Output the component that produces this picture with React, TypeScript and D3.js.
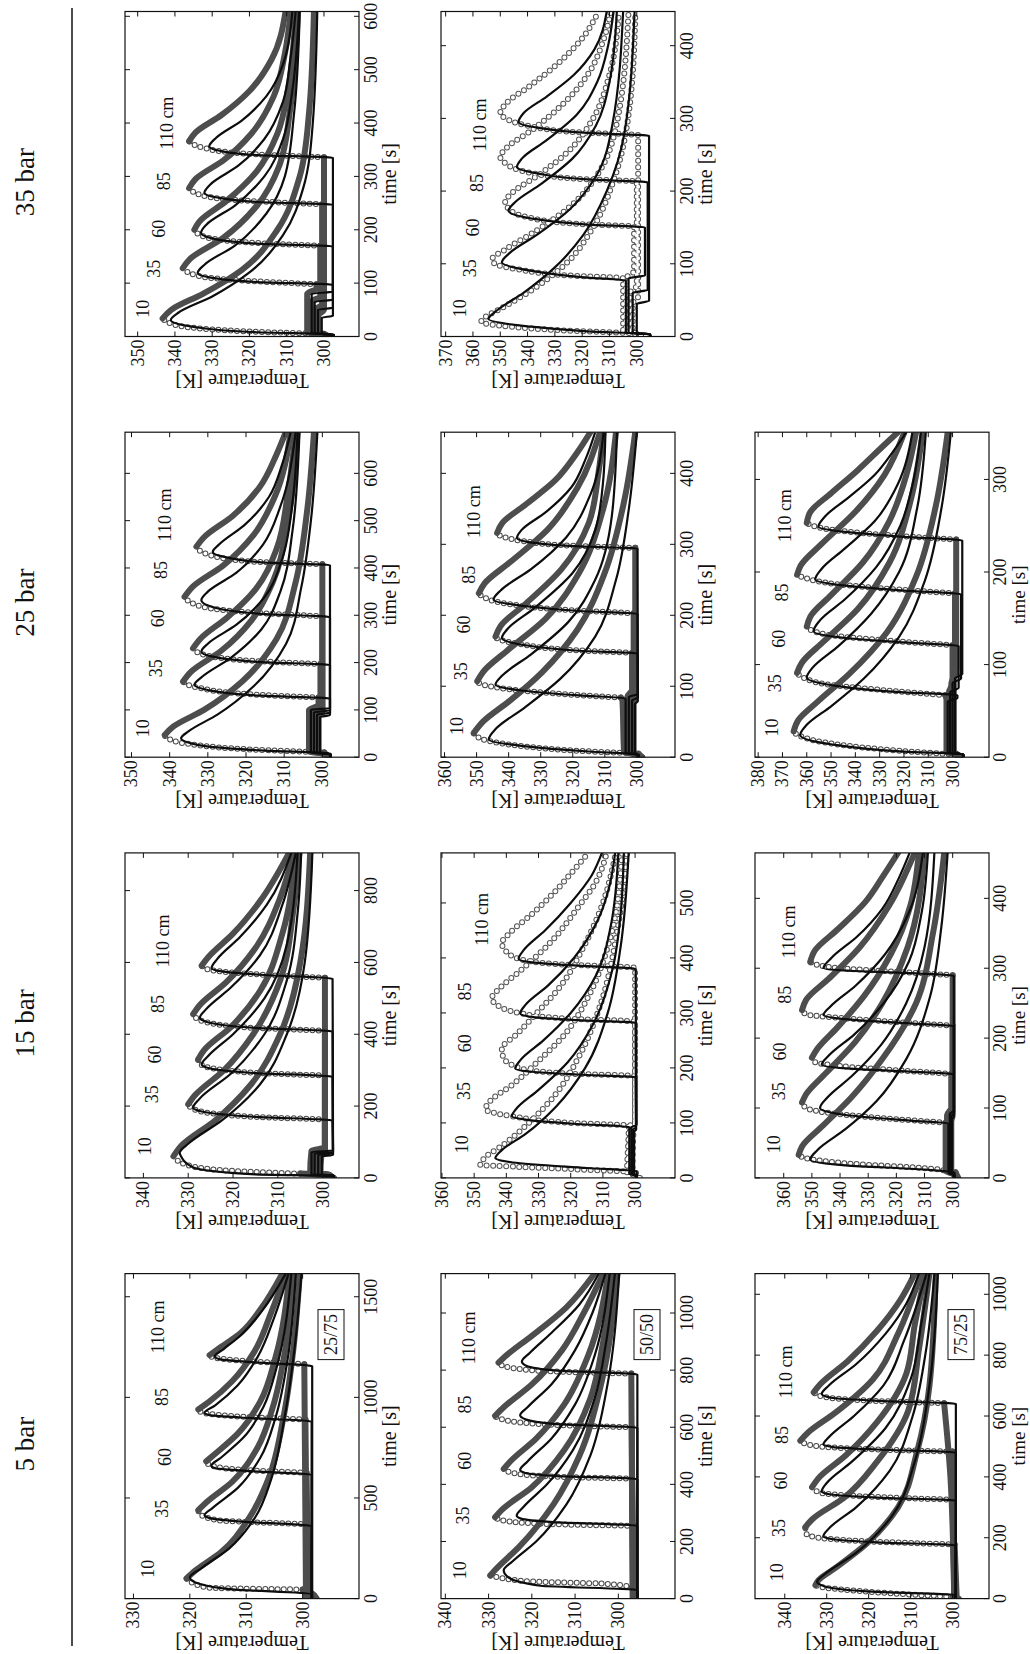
import React from "react";
import * as d3 from "d3";

type Pt = [number, number];

const PRESSURES = ["5 bar", "15 bar", "25 bar", "35 bar"];
const COMPOSITIONS = ["25/75", "50/50", "75/25"];
const POSITIONS = ["10", "35", "60", "85", "110 cm"];

// ---------- 5 bar, 25/75 ----------
const P05_2575_MODEL: Pt[][] = [
  [[0,298.3],[22,298.4],[45,312],[75,318.5],[105,320.0],[150,318],[250,313],[400,308.5],[600,305.5],[900,303.2],[1250,301.4],[1615,300.2]],
  [[0,298.4],[360,298.4],[385,312],[400,316.5],[415,317.4],[450,316],[550,311.5],[700,307.5],[900,304.8],[1200,302.6],[1615,301.2]],
  [[0,298.4],[615,298.4],[635,310],[648,315.5],[660,316.2],[700,314.5],[800,310.5],[950,307],[1150,304.6],[1615,302.0]],
  [[0,298.4],[880,298.4],[900,311],[912,316.5],[922,317.4],[960,315.5],[1060,311.5],[1200,308],[1400,305],[1615,302.5]],
  [[0,298.3],[1155,298.3],[1175,309],[1190,314.8],[1203,315.6],[1240,314],[1300,311.3],[1430,307.2],[1615,303.0]],
];
const P05_2575_EXP: Pt[][] = [
  [[0,297.5],[30,298.5],[45,300],[55,317],[100,320.6],[140,319],[230,314.5],[400,309.5],[600,306],[900,303.4],[1250,301.6],[1615,300.5]],
  [[0,298.8],[370,299.2],[390,315],[420,318.2],[440,318.5],[480,317],[580,312.5],[750,308],[950,305.3],[1250,303.0],[1615,301.5]],
  [[0,299],[625,299.3],[645,313],[670,316.8],[682,317.1],[720,315.5],[820,311.5],[980,307.5],[1200,304.8],[1615,302.3]],
  [[0,299.2],[890,299.5],[910,314],[930,318.2],[940,318.5],[980,316.5],[1080,312.5],[1230,308.5],[1420,305.6],[1615,303.0]],
  [[0,299.4],[1165,299.7],[1185,312],[1200,316],[1210,316.5],[1250,314.5],[1320,311],[1440,307.4],[1615,303.6]],
];
const P05_2575_LABELS: Pt[] = [[149,327.4],[447,325],[704,324.4],[1002,325],[1350,325.6]];

// ---------- 5 bar, 50/50 ----------
const P05_5050_MODEL: Pt[][] = [
  [[0,295.5],[30,295.6],[45,318],[75,325.5],[99,326.5],[130,324.5],[200,319],[330,312],[500,306.5],[750,302.5],[1138,299.8]],
  [[0,295.6],[255,295.6],[268,315],[280,322.5],[291,323.5],[320,322],[400,316.5],[520,310.5],[700,305.5],[900,302.8],[1138,300.8]],
  [[0,295.6],[418,295.6],[430,315],[440,321.5],[450,322.7],[480,321],[560,315.5],[680,310],[850,305.5],[1138,302]],
  [[0,295.6],[598,295.6],[612,315],[628,321.5],[642,322.7],[670,321],[750,315.5],[870,310],[1000,306],[1138,303]],
  [[0,295.6],[785,295.6],[798,314],[815,321.3],[830,322.3],[860,320.5],[930,315.5],[1030,309],[1138,304.5]],
];
const P05_5050_EXP: Pt[][] = [
  [[0,296],[40,296.8],[52,303],[60,320],[75,328],[81,329.6],[100,328.5],[180,323],[330,315],[500,309],[750,304],[1138,300.2]],
  [[0,296.2],[255,296.5],[262,318],[275,327],[285,328.5],[310,327],[390,320],[520,312.5],[700,306.5],[900,303.5],[1138,301.2]],
  [[0,296.5],[420,296.8],[428,316],[442,325],[454,326.5],[480,325],[560,319],[680,312.5],[850,307],[1138,302.3]],
  [[0,296.6],[600,296.9],[610,317],[628,327],[640,328.5],[670,326.5],[750,320],[870,313],[1000,308],[1138,303.5]],
  [[0,296.7],[788,297],[796,316],[812,326],[826,327.7],[850,326],[920,320],[1020,312],[1138,305.5]],
];
const P05_5050_LABELS: Pt[] = [[99,336.5],[291,335.8],[483,335.4],[680,335.4],[913,334.6]];

// ---------- 5 bar, 75/25 ----------
const P05_7525_MODEL: Pt[][] = [
  [[0,299.5],[12,299.5],[22,318],[40,330.5],[55,332.3],[80,330.5],[150,323],[270,314.5],[450,309],[700,305.5],[1068,303.5]],
  [[0,299.3],[175,299.3],[185,318],[195,328.5],[205,330.8],[230,329.5],[300,323],[420,315],[600,309.5],[800,306.5],[1068,304.3]],
  [[0,299.2],[322,299.2],[332,318],[342,329],[352,331.2],[380,330],[450,324],[560,316],[720,310],[900,307.5],[1068,305.5]],
  [[0,299.2],[480,299.2],[490,318],[498,328.5],[506,330.8],[530,329.5],[600,323.5],[700,316.5],[850,311.5],[1068,306.2]],
  [[0,299.2],[640,299.2],[650,318],[660,329],[672,331.2],[700,329.5],[770,323],[870,316],[970,311],[1068,308]],
];
const P05_7525_EXP: Pt[][] = [
  [[0,298.5],[6,300],[15,312],[25,322],[35,330],[44,332.7],[60,332],[100,328],[180,320.5],[300,313],[480,308.5],[700,305.5],[1068,304]],
  [[0,299],[178,299.5],[188,320],[200,332],[212,334.8],[235,335.1],[260,333.5],[330,326],[450,318],[620,310.5],[820,308],[1068,305.5]],
  [[0,299.5],[325,300],[335,320],[348,331.5],[366,333.5],[395,332],[470,325.5],[580,318],[740,311],[900,309],[1068,306.5]],
  [[0,299.6],[483,300],[492,322],[505,334],[519,336.3],[545,334.5],[610,328],[720,319],[870,313],[1068,307.5]],
  [[0,299.6],[400,300.5],[642,302],[652,322],[664,331],[678,333.1],[705,331.5],[780,325],[880,318],[980,312.5],[1068,309]],
];
const P05_7525_LABELS: Pt[] = [[87,341.8],[232,341.4],[388,341],[538,340.6],[745,339.8]];

// ---------- 15 bar, 25/75 ----------
const P15_2575_MODEL: Pt[][] = [
  [[0,297.5],[5,297.6],[10,315],[30,329],[60,331.6],[70,331.9],[95,330],[160,322.5],[260,314],[400,308],[600,304],[905,302.3]],
  [[0,297.5],[6,297.5],[9,302.5],[72,302.5],[76,297.7],[160,297.8],[170,315],[185,327],[195,328.9],[220,327.5],[290,320.5],[400,313],[550,308],[750,305.5],[905,304.8]],
  [[0,297.5],[6,297.5],[9,301.8],[68,301.8],[72,297.7],[282,297.8],[292,315],[306,325.5],[316,327],[340,325.5],[400,320],[500,313],[650,308],[905,305.6]],
  [[0,297.5],[6,297.5],[9,301],[64,301],[68,297.7],[408,297.8],[418,315],[435,326],[446,327.4],[470,326],[530,320.5],[620,314],[760,309],[905,306]],
  [[0,297.5],[6,297.5],[9,300.2],[60,300.2],[64,297.7],[555,297.8],[565,313],[575,322.5],[584,324.8],[610,323.5],[670,318.5],[760,312.5],[905,307]],
];
const P15_2575_EXP: Pt[][] = [
  [[0,297.5],[8,299],[12,305],[18,318],[35,330],[60,333.3],[90,331.5],[160,324],[260,316],[400,309.5],[600,305],[905,302.8]],
  [[0,298],[8,298.5],[12,302.8],[75,302.5],[85,299.5],[163,299.5],[172,318],[190,328.5],[205,330],[230,328.5],[300,322],[400,315.5],[550,309.5],[750,306.5],[905,305.2]],
  [[0,298],[8,298.5],[12,302],[70,301.8],[80,299.5],[285,299.5],[295,318],[315,327],[330,327.8],[355,326.5],[420,320.5],[520,314],[680,309],[905,306]],
  [[0,298],[8,298.5],[12,301.2],[66,301],[76,299.5],[410,299.5],[420,318],[440,327.5],[456,328.9],[480,327.5],[545,321.5],[640,315],[780,309.5],[905,306.5]],
  [[0,298],[8,298.5],[12,300.5],[62,300.3],[72,299.5],[557,299.5],[568,316],[580,325.5],[591,327],[615,325.5],[680,320],[770,314],[905,307.5]],
];
const P15_2575_LABELS: Pt[] = [[88,339.6],[233,338.1],[344,337.4],[484,336.7],[660,335.6]];

// ---------- 15 bar, 50/50 ----------
const P15_5050_MODEL: Pt[][] = [
  [[0,299.4],[12,299.5],[18,315],[28,338],[36,343.4],[50,341.5],[80,334],[130,324.5],[200,315.5],[300,308.5],[420,304.5],[591,302]],
  [[0,299.4],[4,299.5],[7,301.8],[90,301.8],[92,301.5],[98,318],[106,334],[112,338.3],[125,337],[160,330],[210,321],[280,313],[380,307],[480,304.5],[591,303.5]],
  [[0,299.4],[4,299.5],[7,301.2],[92,301.2],[96,299.7],[183,299.8],[188,318],[193,332],[199,337.2],[215,335.5],[250,328.5],[300,320],[370,312],[460,307.5],[591,305.2]],
  [[0,299.4],[4,299.5],[7,300.7],[88,300.7],[92,299.7],[282,299.8],[287,318],[292,331],[299,335.7],[315,334],[350,327],[400,319],[470,311.5],[530,308],[591,306.2]],
  [[0,299.4],[4,299.5],[7,300.3],[84,300.3],[88,299.7],[380,299.8],[386,318],[392,332],[398,336.2],[415,334.5],[450,328],[500,320],[550,313.5],[591,310.3]],
];
const P15_5050_EXP: Pt[][] = [
  [[0,298.5],[10,300],[16,320],[20,336],[24,348.1],[35,347],[60,341],[100,333],[150,325],[220,317.5],[320,310.5],[450,305.5],[591,302.5]],
  [[0,299],[6,300.5],[10,302.5],[90,302],[95,302],[100,320],[112,338],[125,346.5],[140,345],[170,338],[210,330.5],[260,322],[330,314.5],[430,308],[591,304]],
  [[0,299],[6,300.5],[10,302],[95,301.5],[105,300],[185,300],[190,322],[200,336],[220,341],[235,341.4],[260,337],[300,330.5],[350,323],[420,316],[500,310],[591,306]],
  [[0,299],[6,300],[10,301.2],[90,301],[100,300],[284,300],[290,322],[300,336],[315,343],[327,344.5],[345,342],[380,335],[430,326],[490,318],[540,312],[591,308.8]],
  [[0,299],[6,300],[10,300.8],[85,300.5],[95,300],[382,300],[388,322],[398,336],[415,340.5],[427,341.4],[445,339],[480,332],[520,325],[560,319],[591,314.5]],
];
const P15_5050_LABELS: Pt[] = [[61,353.8],[158,353.3],[245,352.7],[339,352.7],[470,347.6]];

// ---------- 15 bar, 75/25 ----------
const P15_7525_MODEL: Pt[][] = [
  [[0,299.3],[8,299.4],[12,310],[18,338],[26,350.6],[40,348],[70,338],[110,327],[170,316.5],[260,308],[360,304],[465,301.8]],
  [[0,299.3],[4,299.4],[7,301.5],[76,301.5],[78,301.5],[82,315],[90,338],[100,347.1],[115,344.5],[145,336],[190,325.5],[250,316.5],[330,310],[465,306.5]],
  [[0,299.3],[4,299.4],[7,301],[92,301],[96,299.6],[148,299.6],[152,315],[156,335],[162,346.5],[175,344],[205,335],[250,324.5],[310,315.5],[380,311],[465,308.8]],
  [[0,299.3],[4,299.4],[7,300.6],[88,300.6],[92,299.6],[217,299.6],[221,315],[226,335],[233,345.9],[245,343.5],[275,334.5],[320,324],[380,315.5],[465,310.6]],
  [[0,299.3],[4,299.4],[7,300.2],[84,300.2],[88,299.6],[289,299.6],[293,315],[296,335],[300,345.9],[315,343],[345,334],[385,325],[430,319],[465,315.3]],
];
const P15_7525_EXP: Pt[][] = [
  [[0,298],[8,299],[14,310],[20,335],[28,352],[33,354.7],[45,353.5],[75,346],[115,336],[170,325],[250,313],[350,307],[465,303]],
  [[0,298.5],[6,300],[10,302.5],[76,302.5],[79,302.5],[84,320],[92,342],[100,352],[108,353.5],[120,352],[150,345],[195,334.5],[250,325],[330,316],[465,310]],
  [[0,298.5],[6,300],[10,302],[90,302],[100,300.5],[149,300.5],[154,320],[160,340],[166,349],[172,350],[185,348],[215,341],[260,331.5],[320,322],[390,315],[465,312]],
  [[0,298.5],[6,299.5],[10,301],[85,301],[95,300],[218,300],[223,320],[229,340],[234,352],[240,353.5],[255,352],[285,344],[330,333],[390,322.5],[465,313.5]],
  [[0,298.5],[6,299.5],[10,300.5],[80,300.5],[90,300],[290,300],[295,320],[300,340],[305,348.5],[309,350.6],[325,349],[355,341],[395,331],[430,325],[465,319.4]],
];
const P15_7525_LABELS: Pt[] = [[48,363.5],[124,361.8],[181,361.2],[262,359.4],[352,358.2]];

// ---------- 25 bar, 25/75 ----------
const P25_2575_MODEL: Pt[][] = [
  [[0,297.8],[8,297.9],[14,315],[25,332],[40,337],[55,335],[90,327.5],[150,318],[240,309.5],[360,305.5],[500,303],[687,301.3]],
  [[0,297.8],[6,297.9],[10,303],[100,303],[104,298],[124,298],[130,316],[142,330],[153,333.5],[170,331.5],[210,324],[270,316],[350,311],[480,307.8],[687,306]],
  [[0,297.8],[6,297.9],[10,302.2],[95,302.2],[99,298],[195,298],[201,316],[213,329],[223,331.7],[240,330],[280,322.5],[340,315],[420,310.5],[540,307.8],[687,306.5]],
  [[0,297.8],[6,297.9],[10,301.4],[90,301.4],[94,298],[296,298],[303,316],[318,329],[332,331.7],[350,330],[390,322.5],[450,315.5],[530,311],[687,307]],
  [[0,297.8],[6,297.9],[10,300.6],[85,300.6],[89,298],[406,298],[412,316],[424,326],[434,328.7],[450,327],[490,320.5],[550,314],[620,310.5],[687,308.3]],
];
const P25_2575_EXP: Pt[][] = [
  [[0,298.3],[10,299.5],[16,318],[28,335],[40,340.5],[47,341.3],[65,339],[100,331],[160,321],[250,312],[370,307],[520,304],[687,302.2]],
  [[0,298.5],[8,300],[12,303.5],[100,303.5],[110,301],[126,301],[133,319],[148,333],[160,336.5],[180,334.5],[225,326.5],[290,318.5],[370,313],[500,309],[687,306.5]],
  [[0,298.5],[8,300],[12,303],[95,303],[105,300.5],[197,300.5],[204,319],[218,331.5],[230,333.9],[250,332],[295,325],[355,317.5],[440,312],[560,309],[687,307]],
  [[0,298.5],[8,299.5],[12,302],[90,302],[100,300],[298,300],[306,319],[322,333],[339,336.1],[360,334],[405,326],[470,318],[550,312.5],[687,308.3]],
  [[0,298.5],[8,299.5],[12,301],[85,301],[95,300],[408,300],[414,319],[430,330.5],[445,333],[465,331],[510,323.5],[570,316.5],[640,312],[687,309.6]],
];
const P25_2575_LABELS: Pt[] = [[61,347],[188,343.5],[294,343],[396,342.2],[512,341.3]];

// ---------- 25 bar, 50/50 ----------
const P25_5050_MODEL: Pt[][] = [
  [[0,299.4],[4,299.5],[8,315],[16,336],[25,346.2],[40,344],[70,335],[110,324],[170,313],[250,306.5],[350,302.5],[458,300]],
  [[0,299.4],[3,299.5],[6,303.5],[80,303.5],[83,303.6],[87,318],[94,336],[102,344.1],[115,342],[145,333],[190,321.5],[250,313],[340,307.8],[458,306.2]],
  [[0,299.4],[3,299.5],[6,302.5],[85,302.5],[89,299.7],[146,299.8],[150,318],[158,335],[168,342.1],[180,340.5],[210,332],[260,320],[320,313],[390,310.5],[458,309.8]],
  [[0,299.4],[3,299.5],[6,301.5],[80,301.5],[84,299.7],[202,299.8],[206,318],[213,335],[222,344.7],[235,342.5],[265,333],[310,322],[370,314.5],[458,310.4]],
  [[0,299.4],[3,299.5],[6,300.6],[75,300.6],[79,299.7],[294,299.8],[297,318],[302,332],[309,337.4],[320,336],[345,328.5],[380,320.5],[420,316],[458,313]],
];
const P25_5050_EXP: Pt[][] = [
  [[0,298.3],[5,299.5],[9,318],[18,340],[28,349.5],[34,350.9],[50,348],[80,339.5],[120,329.5],[180,318.5],[260,310],[360,304],[458,300.5]],
  [[0,298.5],[4,300.5],[8,304],[80,304.5],[84,305],[88,320],[96,340],[103,348.5],[107,349.8],[120,348],[150,340.5],[195,328.5],[260,318],[350,310.5],[458,306.5]],
  [[0,298.5],[4,300.5],[8,303],[85,303],[95,301.5],[147,301.5],[151,320],[160,337],[166,343],[170,344.1],[185,342.5],[215,335],[265,323.5],[330,315],[400,312],[458,310.4]],
  [[0,298.5],[4,300],[8,302],[80,302],[90,301],[203,301],[207,320],[216,340],[226,348],[231,349.3],[245,347.5],[275,339.5],[320,328],[380,318.5],[458,311.5]],
  [[0,298.5],[4,300],[8,301],[75,301],[85,300.5],[295,300.5],[298,320],[305,336],[312,342.5],[316,343.6],[330,342],[355,335],[390,325.5],[430,318.5],[458,314.5]],
];
const P25_5050_LABELS: Pt[] = [[44,356.1],[121,355],[187,354],[257,352.4],[346,350.9]];

// ---------- 25 bar, 75/25 ----------
const P25_7525_MODEL: Pt[][] = [
  [[0,295.5],[3,295.6],[6,320],[14,350],[24,362.7],[35,360],[55,350],[85,336.5],[130,322],[190,311.5],[270,304.5],[351,300.7]],
  [[0,295.5],[3,295.6],[5,302],[60,302],[64,298],[67,298],[70,320],[77,348],[86,360],[97,357.5],[120,347],[155,333.5],[200,322],[270,314.5],[351,311]],
  [[0,295.5],[3,295.6],[5,301],[70,301],[75,297.5],[120,297.5],[124,320],[129,345],[136,357.2],[148,354.5],[170,344.5],[205,331.5],[250,321.5],[300,316],[351,313]],
  [[0,295.5],[3,295.6],[5,300],[80,300],[85,296.5],[176,296.5],[180,320],[185,343],[192,356.5],[203,354],[225,344.5],[255,332],[295,322.5],[351,316.5]],
  [[0,295.5],[3,295.6],[5,299],[85,299],[90,296],[234,296],[238,320],[243,343],[249,355.2],[260,352.5],[280,343],[305,332],[330,324.5],[351,319]],
];
const P25_7525_EXP: Pt[][] = [
  [[0,297],[3,299],[7,322],[14,348],[22,362],[28,365.4],[40,363.5],[60,355.5],[90,342.5],[135,327],[195,315],[270,307],[351,302]],
  [[0,297],[3,299],[6,302.5],[62,302.5],[67,303],[71,322],[78,350],[86,361.5],[91,364],[102,362],[125,353],[160,339],[210,326],[280,317],[351,312.3]],
  [[0,297],[3,298.5],[6,301.5],[70,301.5],[80,300],[121,300],[125,322],[131,348],[137,358],[141,360],[152,358.5],[175,350],[210,337],[255,326],[305,319],[351,315]],
  [[0,297],[3,298.5],[6,300.5],[80,300.5],[90,299],[177,299],[181,322],[187,348],[193,360],[197,364],[207,362.5],[230,354],[265,340],[305,328],[351,319.8]],
  [[0,297],[3,298],[6,299.5],[85,299.5],[95,298.5],[235,298.5],[239,322],[245,348],[250,357.5],[253,360],[265,358.5],[285,350],[310,339],[335,329],[351,322.5]],
];
const P25_7525_LABELS: Pt[] = [[32,374.3],[80,372.9],[128,371.5],[178,370.2],[261,368.8]];

// ---------- 35 bar, 25/75 ----------
const P35_2575_MODEL: Pt[][] = [
  [[0,297.3],[4,297.4],[8,318],[18,335],[31,341.1],[45,339],[75,330],[120,320],[190,311],[280,305.5],[400,303],[609,301.8]],
  [[0,297.3],[3,297.4],[6,303.3],[80,303.3],[84,297.6],[97,297.6],[102,318],[110,330],[119,333.9],[135,332],[170,324],[230,315.5],[300,310.5],[420,308],[609,306.5]],
  [[0,297.3],[3,297.4],[6,302.5],[65,302.5],[69,297.6],[169,297.6],[174,318],[184,330],[194,333],[210,331.5],[245,324],[300,316],[370,311],[460,308.5],[609,306.7]],
  [[0,297.3],[3,297.4],[6,301.6],[50,301.6],[54,297.6],[247,297.6],[252,318],[261,329],[269,332.1],[285,330.5],[320,323],[370,316],[440,311],[520,309],[609,307.6]],
  [[0,297.3],[3,297.4],[6,300.6],[35,300.6],[39,297.6],[335,297.6],[340,318],[348,328],[356,330.8],[372,329],[405,322],[450,315.5],[510,311],[609,308.5]],
];
const P35_2575_EXP: Pt[][] = [
  [[0,298.8],[5,300],[10,322],[22,340],[34,343.3],[50,341],[80,332.5],[125,322],[200,312.5],[300,306.5],[420,304],[609,302.7]],
  [[0,298.5],[4,300.5],[8,304.5],[80,304.5],[90,302],[98,302],[104,320],[114,334],[128,337.9],[145,336],[185,327],[245,318],[320,312],[430,309],[609,307]],
  [[0,298.5],[4,300.5],[8,303.5],[65,303.5],[75,301],[170,301],[176,320],[188,332.5],[200,334.8],[215,333.5],[255,326],[310,318],[380,312.5],[470,309.5],[609,307.6]],
  [[0,298.5],[4,300],[8,302.5],[50,302.5],[60,300.5],[248,300.5],[254,320],[265,333],[278,336.2],[295,334.5],[330,327],[380,319.5],[450,313.5],[530,310.5],[609,308.9]],
  [[0,298.5],[4,300],[8,301.5],[40,301.5],[50,300],[336,300],[342,320],[353,332],[366,336.2],[382,334.5],[415,327.5],[460,320],[520,314],[609,310.3]],
];
const P35_2575_LABELS: Pt[] = [[52,348.7],[127,345.5],[202,344.2],[291,342.9],[400,342]];

// ---------- 35 bar, 50/50 ----------
const P35_5050_MODEL: Pt[][] = [
  [[0,295],[3,295.2],[7,318],[14,340],[24,354.3],[35,351.5],[60,341.5],[95,330],[140,319.5],[200,311],[280,304.5],[447,300.8]],
  [[0,295],[3,295.2],[5,304],[75,304],[77,304],[81,318],[90,338],[102,349.4],[115,346.5],[140,336.5],[175,324.5],[220,315],[290,309],[447,305]],
  [[0,295],[3,295.2],[5,303],[80,303],[84,297],[150,297],[154,318],[162,338],[173,347],[185,344.5],[210,335],[245,323.5],[290,315],[350,310],[447,307.3]],
  [[0,295],[3,295.2],[5,301.5],[60,301.5],[64,296],[212,296],[216,318],[224,336],[233,343.9],[245,342],[270,333],[305,322],[350,314.5],[400,310.5],[447,308.5]],
  [[0,295],[3,295.2],[5,300],[45,300],[49,295.5],[276,295.5],[280,318],[287,336],[295,343.3],[307,341.5],[330,333],[360,323],[395,315.5],[447,311]],
];
const P35_5050_EXP: Pt[][] = [
  [[0,298.5],[4,300],[8,325],[15,350],[20,357],[25,356],[40,349],[65,338],[100,326],[150,316],[220,308],[320,302.5],[447,300.5]],
  [[0,298.5],[4,301],[8,305],[76,305],[80,305],[84,325],[92,343],[100,352],[106,353],[120,348],[145,337],[180,324],[225,314],[290,307.5],[447,303]],
  [[0,298.5],[4,300.5],[8,304],[80,304],[90,301],[151,301],[155,322],[164,340],[176,347],[185,348.2],[198,345.5],[222,336],[255,325],[300,316],[360,310],[447,306.5]],
  [[0,298.5],[4,300],[8,302.5],[60,302.5],[70,300],[213,300],[217,322],[226,340],[238,348],[247,350],[260,347.5],[285,338],[320,327],[360,318],[410,312],[447,309.5]],
  [[0,298.5],[4,300],[8,301.5],[45,301.5],[55,299.5],[277,299.5],[281,322],[290,340],[300,348],[307,350],[320,348],[345,339],[375,329],[410,320],[447,314]],
];
const P35_5050_LABELS: Pt[] = [[39,364.6],[94,361],[150,359.8],[211,358.5],[291,357.3]];

// ---------- axis ticks ----------
const TIME_TICKS_1500 = [0, 500, 1000, 1500];
const TIME_TICKS_1000 = [0, 200, 400, 600, 800, 1000];
const TIME_TICKS_800 = [0, 200, 400, 600, 800];
const TIME_TICKS_600 = [0, 100, 200, 300, 400, 500, 600];
const TIME_TICKS_500 = [0, 100, 200, 300, 400, 500];
const TIME_TICKS_400 = [0, 100, 200, 300, 400];
const TIME_TICKS_300 = [0, 100, 200, 300];
const TEMP_TICKS_330 = [300, 310, 320, 330];
const TEMP_TICKS_340 = [300, 310, 320, 330, 340];
const TEMP_TICKS_350 = [300, 310, 320, 330, 340, 350];
const TEMP_TICKS_360 = [300, 310, 320, 330, 340, 350, 360];
const TEMP_TICKS_370 = [300, 310, 320, 330, 340, 350, 360, 370];
const TEMP_TICKS_380 = [300, 310, 320, 330, 340, 350, 360, 370, 380];

interface Panel {
  band: number; col: number;
  tMax: number; tempLo: number; tempHi: number;
  timeTicks: number[]; tempTicks: number[];
  model: Pt[][]; exp: Pt[][]; labels: Pt[]; rings: boolean;
}

const PANELS: Panel[] = [
  { band: 0, col: 0, tMax: 1615, tempLo: 290.0, tempHi: 331.5, timeTicks: TIME_TICKS_1500, tempTicks: TEMP_TICKS_330, model: P05_2575_MODEL, exp: P05_2575_EXP, labels: P05_2575_LABELS, rings: false },
  { band: 0, col: 1, tMax: 1138, tempLo: 286.9, tempHi: 341.0, timeTicks: TIME_TICKS_1000, tempTicks: TEMP_TICKS_340, model: P05_5050_MODEL, exp: P05_5050_EXP, labels: P05_5050_LABELS, rings: false },
  { band: 0, col: 2, tMax: 1068, tempLo: 291.3, tempHi: 347.1, timeTicks: TIME_TICKS_1000, tempTicks: TEMP_TICKS_340, model: P05_7525_MODEL, exp: P05_7525_EXP, labels: P05_7525_LABELS, rings: false },
  { band: 1, col: 0, tMax: 905, tempLo: 291.9, tempHi: 344.1, timeTicks: TIME_TICKS_800, tempTicks: TEMP_TICKS_340, model: P15_2575_MODEL, exp: P15_2575_EXP, labels: P15_2575_LABELS, rings: false },
  { band: 1, col: 1, tMax: 591, tempLo: 287.6, tempHi: 360.3, timeTicks: TIME_TICKS_500, tempTicks: TEMP_TICKS_360, model: P15_5050_MODEL, exp: P15_5050_EXP, labels: P15_5050_LABELS, rings: true },
  { band: 1, col: 2, tMax: 465, tempLo: 287.1, tempHi: 370.2, timeTicks: TIME_TICKS_400, tempTicks: TEMP_TICKS_360, model: P15_7525_MODEL, exp: P15_7525_EXP, labels: P15_7525_LABELS, rings: false },
  { band: 2, col: 0, tMax: 687, tempLo: 290.4, tempHi: 351.7, timeTicks: TIME_TICKS_600, tempTicks: TEMP_TICKS_350, model: P25_2575_MODEL, exp: P25_2575_EXP, labels: P25_2575_LABELS, rings: false },
  { band: 2, col: 1, tMax: 458, tempLo: 288.1, tempHi: 361.1, timeTicks: TIME_TICKS_400, tempTicks: TEMP_TICKS_360, model: P25_5050_MODEL, exp: P25_5050_EXP, labels: P25_5050_LABELS, rings: false },
  { band: 2, col: 2, tMax: 351, tempLo: 285.0, tempHi: 381.3, timeTicks: TIME_TICKS_300, tempTicks: TEMP_TICKS_380, model: P25_7525_MODEL, exp: P25_7525_EXP, labels: P25_7525_LABELS, rings: false },
  { band: 3, col: 0, tMax: 609, tempLo: 290.6, tempHi: 353.4, timeTicks: TIME_TICKS_600, tempTicks: TEMP_TICKS_350, model: P35_2575_MODEL, exp: P35_2575_EXP, labels: P35_2575_LABELS, rings: false },
  { band: 3, col: 1, tMax: 447, tempLo: 286.0, tempHi: 371.7, timeTicks: TIME_TICKS_400, tempTicks: TEMP_TICKS_370, model: P35_5050_MODEL, exp: P35_5050_EXP, labels: P35_5050_LABELS, rings: true },
];

// ---------- layout (landscape frame, rotated onto the page) ----------
const PAGE_W = 1030;
const PAGE_H = 1654;
const BOX_LEN = 325;   // time extent
const BOX_DEP = 234;   // temperature extent
const BAND_X0 = 55.4;
const BAND_STEP = 420.7;
const COL_Y0 = [125, 441, 755];
const FONT = "'Liberation Serif', 'DejaVu Serif', serif";

function splitExp(pts: Pt[]) {
  let p = 0;
  pts.forEach((d, i) => { if (d[1] > pts[p][1]) p = i; });
  let s = 0;
  for (let i = 1; i <= p; i++) {
    if (pts[i][1] - pts[i - 1][1] > 6) { s = i - 1; break; }
  }
  return { pre: pts.slice(0, s + 1), rise: pts.slice(s, p + 1), post: pts.slice(p) };
}

function PanelView({ panel, idx }: { panel: Panel; idx: number }) {
  const x0 = BAND_X0 + BAND_STEP * panel.band;
  const x1 = x0 + BOX_LEN;
  const y0 = COL_Y0[panel.col];
  const y1 = y0 + BOX_DEP;
  const x = d3.scaleLinear().domain([0, panel.tMax]).range([x0, x1]);
  const y = d3.scaleLinear().domain([panel.tempLo, panel.tempHi]).range([y1, y0]);
  const line = d3.line<Pt>().x((d) => x(d[0])).y((d) => y(d[1])).curve(d3.curveMonotoneX);
  const clipId = `clip-${idx}`;
  const ringGap = panel.rings ? 6.5 : 6.2;
  const ringColor = panel.rings ? "#555555" : "#4a4a4a";

  const ringPaths: string[] = [];
  const bandPaths: string[] = [];
  panel.exp.forEach((pts) => {
    if (panel.rings) {
      ringPaths.push(line(pts) || "");
    } else {
      const { pre, rise, post } = splitExp(pts);
      if (pre.length > 1) bandPaths.push(line(pre) || "");
      if (rise.length > 1) ringPaths.push(line(rise) || "");
      if (post.length > 1) bandPaths.push(line(post) || "");
    }
  });

  const tick = 5;
  const lastCol = panel.col === 2;
  const tickLabelY = lastCol ? y1 + 17 : y1 + 18;
  const timeLabelY = lastCol ? y1 + 36 : y1 + 37;
  const timeLabelSize = lastCol ? 19 : 20;
  return (
    <g>
      <defs>
        <clipPath id={clipId}>
          <rect x={x0} y={y0} width={BOX_LEN} height={BOX_DEP} />
        </clipPath>
      </defs>
      <g clipPath={`url(#${clipId})`}>
        {ringPaths.map((d, i) => (
          <path key={`ro${i}`} d={d} fill="none" stroke={ringColor} strokeWidth={6}
            strokeLinecap="round" strokeDasharray={`0 ${ringGap}`} />
        ))}
        {ringPaths.map((d, i) => (
          <path key={`ri${i}`} d={d} fill="none" stroke="#ffffff" strokeWidth={4}
            strokeLinecap="round" strokeDasharray={`0 ${ringGap}`} />
        ))}
        {bandPaths.map((d, i) => (
          <path key={`b${i}`} d={d} fill="none" stroke="#4d4d4d" strokeWidth={6}
            strokeLinecap="round" strokeLinejoin="round" />
        ))}
        {panel.model.map((pts, i) => (
          <path key={`m${i}`} d={line(pts) || ""} fill="none" stroke="#0d0d0d" strokeWidth={2.2}
            strokeLinejoin="round" />
        ))}
        {panel.labels.map((d, i) => (
          <text key={`l${i}`} x={x(d[0])} y={y(d[1])} fontSize={18} fontFamily={FONT}
            textAnchor="middle" dominantBaseline="central" fill="#111">{POSITIONS[i]}</text>
        ))}
      </g>
      <rect x={x0} y={y0} width={BOX_LEN} height={BOX_DEP} fill="none" stroke="#111" strokeWidth={1.2} />
      {panel.timeTicks.map((t) => (
        <g key={`tt${t}`}>
          <line x1={x(t)} x2={x(t)} y1={y1} y2={y1 - tick} stroke="#111" strokeWidth={1} />
          <line x1={x(t)} x2={x(t)} y1={y0} y2={y0 + tick} stroke="#111" strokeWidth={1} />
          <text x={x(t)} y={tickLabelY} fontSize={18} fontFamily={FONT} textAnchor="middle" fill="#111">{t}</text>
        </g>
      ))}
      {panel.tempTicks.map((v) => (
        <g key={`yt${v}`}>
          <line x1={x0} x2={x0 + tick} y1={y(v)} y2={y(v)} stroke="#111" strokeWidth={1} />
          <line x1={x1} x2={x1 - tick} y1={y(v)} y2={y(v)} stroke="#111" strokeWidth={1} />
          <text x={x0 - 3} y={y(v)} fontSize={18} fontFamily={FONT} textAnchor="end"
            dominantBaseline="central" fill="#111">{v}</text>
        </g>
      ))}
      <text x={(x0 + x1) / 2} y={timeLabelY} fontSize={timeLabelSize} fontFamily={FONT} textAnchor="middle" fill="#111">time [s]</text>
      <text transform={`translate(${x0 - 44},${(y0 + y1) / 2}) rotate(-90)`} fontSize={20} fontFamily={FONT}
        textAnchor="middle" dominantBaseline="central" fill="#111">Temperature [K]</text>
      {panel.band === 0 && (
        <g>
          <rect x={x0 + 264 - 25} y={y0 + 206 - 13} width={50} height={26} fill="#fff" stroke="#111" strokeWidth={1} />
          <text x={x0 + 264} y={y0 + 206} fontSize={18} fontFamily={FONT} textAnchor="middle"
            dominantBaseline="central" fill="#111">{COMPOSITIONS[panel.col]}</text>
        </g>
      )}
    </g>
  );
}

export default function App() {
  return (
    <svg width={PAGE_W} height={PAGE_H} style={{ position: "absolute", left: 0, top: 0, background: "#fff" }}>
      <rect x={0} y={0} width={PAGE_W} height={PAGE_H} fill="#fff" />
      <g transform={`translate(0,${PAGE_H}) rotate(-90)`}>
        {PRESSURES.map((p, i) => (
          <text key={p} x={BAND_X0 + BAND_STEP * i + BOX_LEN / 2 - 8} y={34} fontSize={27} fontFamily={FONT}
            textAnchor="middle" fill="#111">{p}</text>
        ))}
        <line x1={8} x2={PAGE_H - 8} y1={72} y2={72} stroke="#111" strokeWidth={1.5} />
        {PANELS.map((panel, i) => (
          <PanelView key={i} panel={panel} idx={i} />
        ))}
      </g>
    </svg>
  );
}
